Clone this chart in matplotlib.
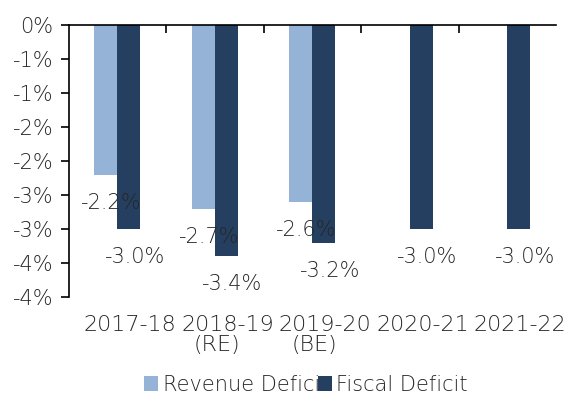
import numpy as np
import matplotlib
matplotlib.use('Agg')
import matplotlib.pyplot as plt
from matplotlib.ticker import FixedLocator, FuncFormatter
from matplotlib.transforms import offset_copy

# Revenue and fiscal deficit, % of GDP
years = ['2017-18', '2018-19', '2019-20', '2020-21', '2021-22']
subLabels = ['', '(RE)', '(BE)', '', '']
revenueDeficit = [-2.2, -2.7, -2.6, None, None]
fiscalDeficit = [-3.0, -3.4, -3.2, -3.0, -3.0]
yTicks = [0, -0.5, -1, -1.5, -2, -2.5, -3, -3.5, -4]

lightBlue = '#95B3D7'
navy = '#243F60'
textGrey = '#262626'

# thin and wide, closest thing to the original gothic face
plt.rcParams['font.family'] = ['DejaVu Sans']
plt.rcParams['font.weight'] = 200
fs = 15

fig = plt.figure(figsize=(5.77, 4.01), dpi=100)
ax = fig.add_axes([68.5/577, 1 - 297/401, 487.5/577, 272/401])

x = np.arange(len(years))
w = 0.236
revX = [i - w/2 for i, v in zip(x, revenueDeficit) if v is not None]
revY = [v for v in revenueDeficit if v is not None]
ax.bar(revX, revY, width=w, color=lightBlue, label='Revenue Deficit')
ax.bar(x + w/2, fiscalDeficit, width=w, color=navy, label='Fiscal Deficit')

# data labels sit under the bar ends
for xi, v in zip(revX, revY):
    ax.annotate('%.1f%%' % v, (xi + w/2 - 0.06, v), xytext=(0, -28), textcoords='offset pixels',
                ha='center', va='center', fontsize=fs, color=textGrey, zorder=5)
for xi, v in zip(x, fiscalDeficit):
    ax.annotate('%.1f%%' % v, (xi + 0.18, v), xytext=(0, -28), textcoords='offset pixels',
                ha='center', va='center', fontsize=fs, color=textGrey, zorder=5)

ax.set_xlim(-0.5, len(years) - 0.5)
ax.set_ylim(-4, 0)

# y axis: Excel style rounded labels every 0.5%
ax.yaxis.set_major_locator(FixedLocator(yTicks))
def pct(v, pos):
    r = int(np.sign(v) * np.floor(abs(v) + 0.5))
    return '%d%%' % r
ax.yaxis.set_major_formatter(FuncFormatter(pct))
ax.tick_params(axis='y', direction='out', length=6, width=1.2, labelsize=fs, labelcolor=textGrey, pad=5)

# x axis: line at zero on top, ticks at category boundaries
ax.set_xticks(x)
ax.set_xticklabels([])
ax.set_xticks(np.arange(0.5, len(years) - 0.5, 1), minor=True)
ax.tick_params(axis='x', which='major', length=0)
ax.tick_params(axis='x', which='minor', top=True, bottom=False, direction='in', length=6, width=1.2)

# category labels: year line sits a little right of the centre, as in the source
yearTrans = offset_copy(ax.get_xaxis_transform(), fig=fig, x=13, y=0, units='dots')
subTrans = offset_copy(ax.get_xaxis_transform(), fig=fig, x=2, y=0, units='dots')
for xi, yr, sub in zip(x, years, subLabels):
    ax.text(xi, -0.066, yr, transform=yearTrans, ha='center', va='top', fontsize=16, color=textGrey)
    if sub:
        ax.text(xi, -0.14, sub, transform=subTrans, ha='center', va='top', fontsize=16, color=textGrey)

for s in ['right', 'bottom']:
    ax.spines[s].set_visible(False)
ax.spines['left'].set_linewidth(1.2)
ax.spines['top'].set_linewidth(1.2)

leg = fig.legend(loc='center', bbox_to_anchor=(0.53, 1 - 385/401), ncol=2, frameon=False,
                 fontsize=fs, handlelength=0.7, handleheight=0.7, handletextpad=0.2,
                 columnspacing=-0.5, labelcolor=textGrey)

fig.savefig('out.png', dpi=100)
